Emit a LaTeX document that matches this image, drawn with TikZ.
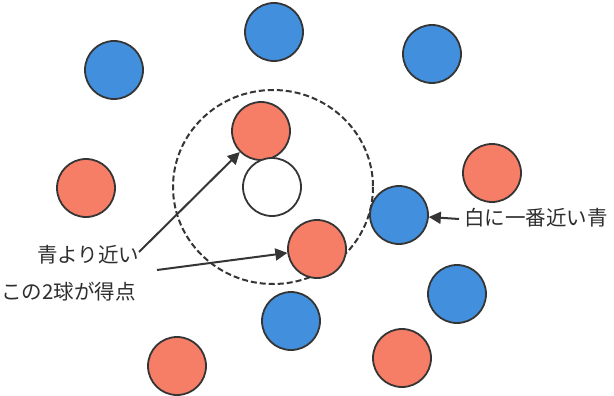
\documentclass[tikz,border=0pt]{standalone}
\usepackage{fontspec}
\newfontfamily\jpfont{Noto Sans CJK JP}
\usetikzlibrary{arrows.meta}
\definecolor{ballblue}{HTML}{418FDD}
\definecolor{ballred}{HTML}{F77E66}
\definecolor{edgegray}{HTML}{353535}
\definecolor{textgray}{HTML}{2E2E2E}
\tikzset{
  ball/.style={circle, draw=edgegray, line width=1.8pt, inner sep=0pt, minimum size=58pt},
  blueball/.style={ball, fill=ballblue},
  redball/.style={ball, fill=ballred},
  whiteball/.style={ball, fill=white},
  label/.style={font=\jpfont\fontsize{20.5pt}{22pt}\selectfont, text=textgray, inner sep=0pt, anchor=west},
  pointer/.style={draw=edgegray, line width=2pt, -{Triangle[length=12pt,width=12pt]}},
}
\begin{document}
\begin{tikzpicture}[x=1pt, y=-1pt]
  % canvas
  \fill[white] (0,0) rectangle (614,396);
  \useasboundingbox (0,0) rectangle (614,396);

  % scoring range around the white ball
  \draw[edgegray, line width=2pt, dash pattern=on 6pt off 3pt]
    (273,187) ellipse [x radius=100, y radius=97];

  % blue balls
  \node[blueball] (b1) at (114,70) {};
  \node[blueball] (b2) at (274,32) {};
  \node[blueball] (b3) at (432,54) {};
  \node[blueball] (b4) at (399,215) {};
  \node[blueball] (b5) at (457,294) {};
  \node[blueball] (b6) at (291,321) {};

  % red balls
  \node[redball] (r1) at (86,188) {};
  \node[redball] (r2) at (261,131) {};
  \node[redball] (r3) at (492,173) {};
  \node[redball] (r4) at (317,249) {};
  \node[redball] (r5) at (177,366) {};
  \node[redball] (r6) at (402,358) {};

  % white ball
  \node[whiteball] (w) at (272,187) {};

  % labels
  \node[label] (near) at (37,255) {青より近い};
  \node[label] (score) at (1,292) {この2球が得点};
  \node[label] (closest) at (464,218) {白に一番近い青};

  % arrows
  \coordinate (s1) at (139,252);
  \coordinate (s2) at (157,270);
  \coordinate (s3) at (459,219);
  \draw[pointer] (s1) -- (r2);
  \draw[pointer] (s2) -- (r4);
  \draw[pointer] (s3) -- (b4);
\end{tikzpicture}
\end{document}
